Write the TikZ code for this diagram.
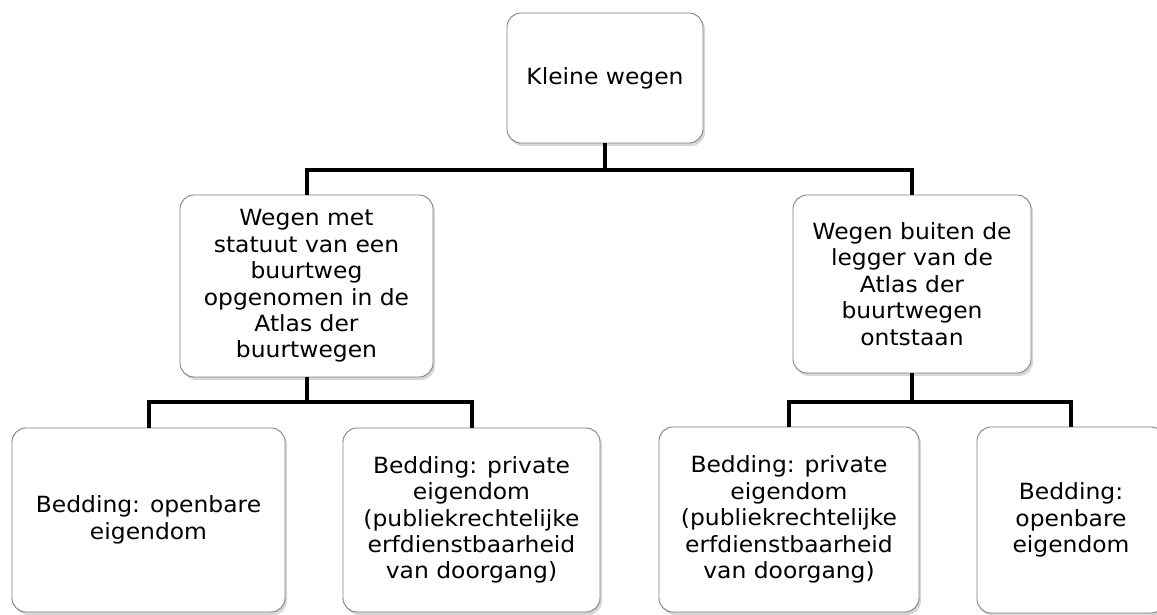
\documentclass[tikz,border=0pt]{standalone}
\usepackage{fontspec}
\setmainfont{DejaVu Sans}[FakeStretch=1.05]
\usetikzlibrary{shadows}
\tikzset{
  box/.style={draw=black!50, line width=0.9pt, fill=white, rounded corners=14pt,
    align=center, inner sep=2pt, font=\fontsize{22.3pt}{26.4pt}\selectfont,
    drop shadow={shadow xshift=2pt, shadow yshift=-3pt, opacity=0.35, fill=black!45}},
  conn/.style={line width=4pt, draw=black}
}
\begin{document}
\begin{tikzpicture}[x=1pt,y=1pt]
\useasboundingbox (0,0) rectangle (1157,615);
\node[box, minimum width=196pt, minimum height=130pt] (top) at (605,537) {Kleine wegen};
\node[box, minimum width=253pt, minimum height=182pt] (midL) at (306.5,329) {Wegen met\\statuut van een\\buurtweg\\opgenomen in de\\Atlas der\\buurtwegen};
\node[box, minimum width=238pt, minimum height=178pt] (midR) at (912,331) {Wegen buiten de\\legger van de\\Atlas der\\buurtwegen\\ontstaan};
\node[box, minimum width=273pt, minimum height=184pt] (b1) at (148.5,95) {Bedding: openbare\\eigendom};
\node[box, minimum width=257pt, minimum height=184pt] (b2) at (471.5,95) {Bedding: private\\eigendom\\(publiekrechtelijke\\erfdienstbaarheid\\van doorgang)};
\node[box, minimum width=260pt, minimum height=185pt] (b3) at (789,95.5) {Bedding: private\\eigendom\\(publiekrechtelijke\\erfdienstbaarheid\\van doorgang)};
\node[box, minimum width=188pt, minimum height=186pt] (b4) at (1071,95) {Bedding:\\openbare\\eigendom};
\coordinate (j1) at (605,445);
\coordinate (jL) at (306.5,213);
\coordinate (jR) at (912,213);
\draw[conn] (top.south) -- (j1);
\draw[conn] (j1) -| (midL.north);
\draw[conn] (j1) -| (midR.north);
\draw[conn] (midL.south) -- (jL);
\draw[conn] (jL) -| (b1.north);
\draw[conn] (jL) -| (b2.north);
\draw[conn] (midR.south) -- (jR);
\draw[conn] (jR) -| (b3.north);
\draw[conn] (jR) -| (b4.north);
\end{tikzpicture}
\end{document}
